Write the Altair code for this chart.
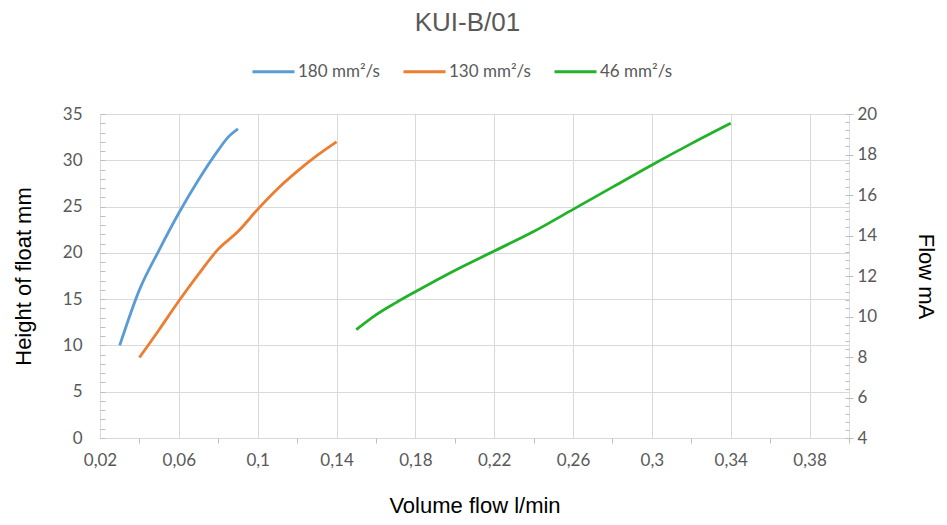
import altair as alt
import pandas as pd

title_text = "KUI-B/01"
series_names = ["180 mm²/s", "130 mm²/s", "46 mm²/s"]
series_colors = ["#5B9BD5", "#ED7D31", "#22B22A"]

blue_x = [0.03, 0.04, 0.05, 0.06, 0.07, 0.08, 0.085, 0.09]
blue_y = [10.0, 16.0, 20.3, 24.3, 27.9, 31.1, 32.5, 33.4]

orange_x = [0.04, 0.05, 0.06, 0.07, 0.08, 0.09, 0.10, 0.11, 0.12, 0.13, 0.14]
orange_y = [8.7, 11.7, 14.8, 17.7, 20.4, 22.3, 24.7, 26.9, 28.8, 30.5, 32.0]

green_x = [0.15, 0.16, 0.17, 0.18, 0.20, 0.22, 0.24, 0.26, 0.28, 0.30, 0.32, 0.34]
green_y = [11.7, 13.3, 14.6, 15.8, 18.1, 20.2, 22.3, 24.7, 27.1, 29.5, 31.8, 34.0]

x_label_values = [0.02, 0.06, 0.1, 0.14, 0.18, 0.22, 0.26, 0.3, 0.34, 0.38]
x_all_values = [0.02, 0.04, 0.06, 0.08, 0.1, 0.12, 0.14, 0.16, 0.18, 0.2,
                0.22, 0.24, 0.26, 0.28, 0.3, 0.32, 0.34, 0.36, 0.38, 0.4]
left_label_values = [0, 5, 10, 15, 20, 25, 30, 35]
left_all_values = list(range(0, 36))
right_label_values = [4, 6, 8, 10, 12, 14, 16, 18, 20]
right_all_values = [round(4 + 0.4 * i, 1) for i in range(41)]

rows = []
for name, xs, ys in zip(series_names, [blue_x, orange_x, green_x], [blue_y, orange_y, green_y]):
    for i, (a, b) in enumerate(zip(xs, ys)):
        rows.append({"series": name, "flow": a, "height": b, "order": i})
df = pd.DataFrame(rows)
df_right = pd.DataFrame({"mA": right_label_values})

GRID = "#d9d9d9"
TICKC = "#bfbfbf"
LABC = "#595959"
LFONT = "Lato"
TFONT = "Liberation Sans"


def in_list(vals):
    return "indexof([" + ", ".join(repr(v) for v in vals) + "], datum.value) >= 0"


x_major = in_list(x_label_values)
left_major = in_list(left_label_values)
right_major = in_list(right_label_values)

x_axis = alt.Axis(
    values=x_all_values,
    labelExpr=x_major + " ? replace(format(datum.value, '.2~f'), '.', ',') : ''",
    grid=True,
    gridColor=GRID,
    gridOpacity={"condition": {"test": x_major, "value": 1}, "value": 0},
    tickColor=TICKC,
    tickOpacity={"condition": {"test": x_major, "value": 0}, "value": 1},
    tickSize=5,
    domain=False,
    labelFont=LFONT,
    labelFontSize=17,
    labelColor=LABC,
    labelPadding=9,
    labelFlush=False,
    labelOverlap=False,
    title="Volume flow l/min",
    titleFont=TFONT,
    titleFontSize=22,
    titleFontWeight="normal",
    titleColor="#000000",
    titlePadding=27,
)

y_axis = alt.Axis(
    values=left_all_values,
    labelExpr=left_major + " ? datum.label : ''",
    grid=True,
    gridColor=GRID,
    gridOpacity={"condition": {"test": left_major, "value": 1}, "value": 0},
    tickColor=TICKC,
    tickSize=5,
    offset=-5,
    domain=False,
    labelFont=LFONT,
    labelFontSize=17,
    labelColor=LABC,
    labelPadding=18,
    labelOverlap=False,
    title="Height of float mm",
    titleFont=TFONT,
    titleFontSize=22,
    titleFontWeight="normal",
    titleColor="#000000",
    titlePadding=27,
)

y2_axis = alt.Axis(
    orient="right",
    values=right_all_values,
    labelExpr=right_major + " ? format(datum.value, 'd') : ''",
    grid=False,
    tickColor=TICKC,
    tickSize={"condition": {"test": right_major, "value": 8}, "value": 4},
    offset=-4,
    domain=False,
    labelFont=LFONT,
    labelFontSize=17,
    labelColor=LABC,
    labelPadding=4,
    labelOverlap=False,
    title="Flow mA",
    titleFont=TFONT,
    titleFontSize=22,
    titleFontWeight="normal",
    titleColor="#000000",
    titlePadding=37,
)

lines = alt.Chart(df).mark_line(strokeWidth=2.8, interpolate="monotone").encode(
    x=alt.X("flow:Q", scale=alt.Scale(domain=[0.02, 0.40], nice=False, zero=False), axis=x_axis),
    y=alt.Y("height:Q", scale=alt.Scale(domain=[0, 35], nice=False, zero=False), axis=y_axis),
    color=alt.Color(
        "series:N",
        scale=alt.Scale(domain=series_names, range=series_colors),
        sort=series_names,
        legend=alt.Legend(
            title=None,
            orient="none",
            legendX=151,
            legendY=-65,
            direction="horizontal",
            symbolType="stroke",
            symbolSize=1764,
            symbolStrokeWidth=3,
            labelFont=LFONT,
            labelFontSize=17,
            labelColor=LABC,
            labelOffset=2,
            columnPadding=17,
        ),
    ),
    order="order:Q",
)

right = alt.Chart(df_right).mark_point(opacity=0).encode(
    y=alt.Y("mA:Q", scale=alt.Scale(domain=[4, 20], nice=False, zero=False), axis=y2_axis),
)

chart = (
    alt.layer(lines, right)
    .resolve_scale(y="independent")
    .properties(
        width=749,
        height=324,
        autosize=alt.AutoSizeParams(type="none"),
        padding={"left": 92, "top": 106, "right": 90, "bottom": 79},
        title=alt.TitleParams(
            title_text,
            font=TFONT,
            fontSize=26,
            fontWeight="normal",
            color=LABC,
            anchor="middle",
            offset=13,
            dx=-7,
        ),
    )
    .configure_view(stroke=GRID, strokeWidth=1)
    .configure(background="white")
)

chart.save("out.html", embed_options={"renderer": "svg", "actions": False})
